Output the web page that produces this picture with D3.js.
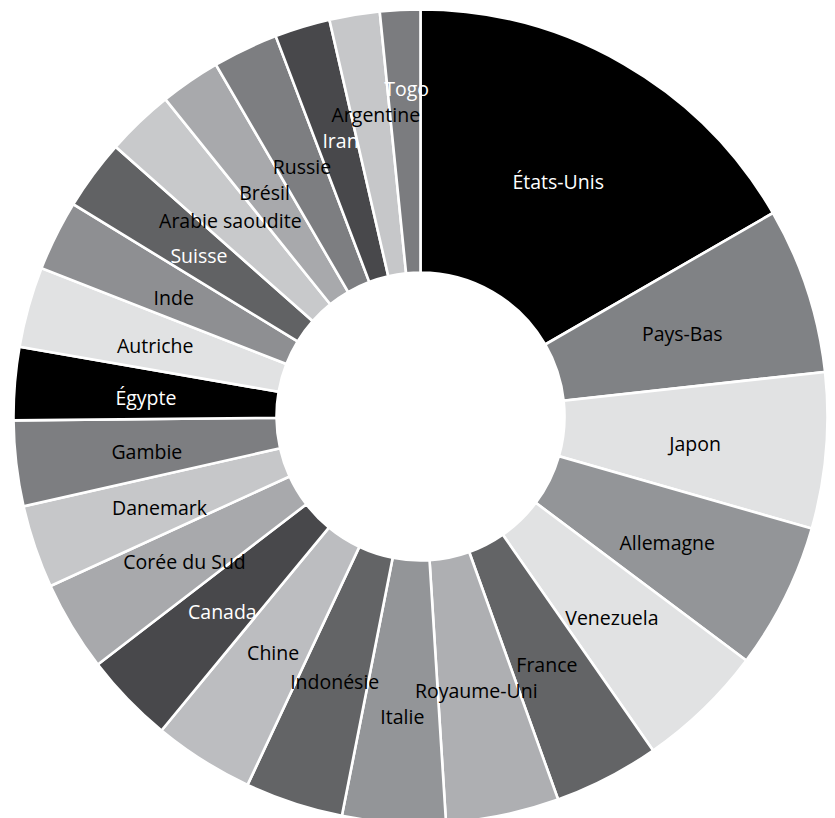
<!DOCTYPE html>
<html>
<head>
<meta charset="utf-8">
<script src="https://cdn.jsdelivr.net/npm/d3@7"></script>
<style>
  html, body { margin: 0; padding: 0; background: #ffffff; }
  svg { display: block; }
</style>
</head>
<body>
<svg id="chart" width="835" height="818"></svg>
<script>
// ---- data ----
const countries = ["États-Unis", "Pays-Bas", "Japon", "Allemagne", "Venezuela", "France",
  "Royaume-Uni", "Italie", "Indonésie", "Chine", "Canada", "Corée du Sud", "Danemark",
  "Gambie", "Égypte", "Autriche", "Inde", "Suisse", "Arabie saoudite", "Brésil", "Russie",
  "Iran", "Argentine", "Togo"];
const values = [16.7, 6.6, 6.2, 5.8, 5.1, 4.2, 4.5, 4.1, 3.9, 4.0, 3.6, 3.6, 3.3, 3.4,
  2.9, 3.2, 2.8, 2.8, 2.7, 2.4, 2.6, 2.2, 2.0, 1.6];

// ---- palette (scale range) ----
const palette = ["#000000", "#808285", "#e1e2e3", "#939598", "#e1e2e3", "#636466",
  "#aeafb2", "#939598", "#636466", "#bcbdc0", "#48484b", "#a8a9ac", "#c6c7c9",
  "#7d7e81", "#000000", "#e1e2e3", "#8e8f92", "#616264", "#c8c9cb", "#a8a9ac",
  "#7d7e81", "#48484b", "#c6c7c9", "#7b7c7f"];
const whiteLabels = ["États-Unis", "Égypte", "Canada", "Suisse", "Iran", "Togo"];

const data = countries.map((c, i) => ({ name: c, value: values[i] }));

const cx = 420.5, cy = 416.5;
const outerR = 407, innerR = 144;

const svg = d3.select("#chart");
const g = svg.append("g").attr("transform", `translate(${cx},${cy})`);

const color = d3.scaleOrdinal().domain(countries).range(palette);

const pie = d3.pie().sort(null).value(d => d.value);
const arcs = pie(data);

const arc = d3.arc().innerRadius(innerR).outerRadius(outerR);

g.selectAll("path.slice")
  .data(arcs)
  .join("path")
  .attr("class", "slice")
  .attr("d", arc)
  .attr("fill", d => color(d.data.name))
  .attr("stroke", "#ffffff")
  .attr("stroke-width", 2.6)
  .attr("stroke-linejoin", "miter");

// ---- labels ----
const labels = g.selectAll("text.lbl")
  .data(arcs)
  .join("text")
  .attr("class", "lbl")
  .attr("text-anchor", "middle")
  .attr("dy", "0.55em")
  .style("font-family", "'Open Sans', sans-serif")
  .style("font-size", "19.5px")
  .attr("fill", d => whiteLabels.includes(d.data.name) ? "#ffffff" : "#000000")
  .text(d => d.data.name);

// initial positions at arc centroids
const pos = arcs.map(d => {
  const [x, y] = arc.centroid(d);
  return { x, y };
});
labels.each(function (d, i) { pos[i].w = this.getComputedTextLength(); });

// collision avoidance: labels nearest to the horizontal axis are placed first;
// each following label is stacked further from the axis than any placed label
// it overlaps horizontally.
const minGap = 26;
const order = d3.range(pos.length).sort((a, b) => Math.abs(pos[a].y) - Math.abs(pos[b].y));
const placed = [];
order.forEach(i => {
  const p = pos[i];
  const dir = p.y >= 0 ? 1 : -1;
  for (let iter = 0; iter < 200; iter++) {
    const hit = placed.find(q =>
      Math.abs(p.x - q.x) < (p.w + q.w) / 2 + 2 && dir * (p.y - q.y) < minGap);
    if (!hit) break;
    p.y = hit.y + dir * minGap;
  }
  placed.push(p);
});

labels
  .attr("x", (d, i) => pos[i].x)
  .attr("y", (d, i) => pos[i].y);
</script>
</body>
</html>
